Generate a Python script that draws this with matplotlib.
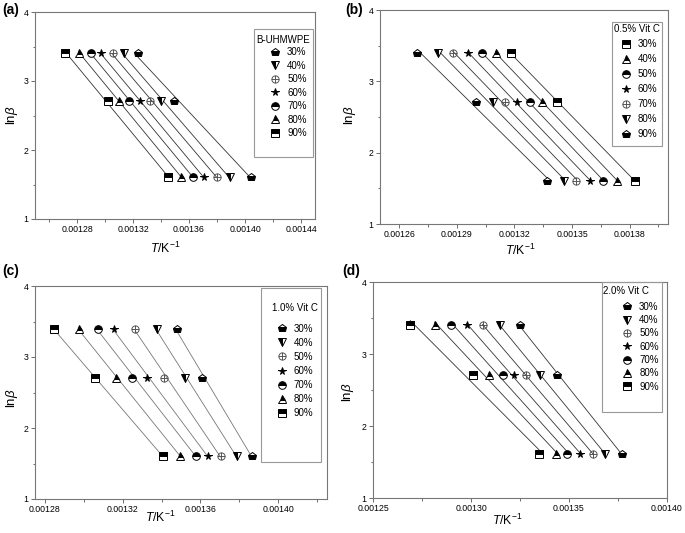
import numpy as np
import matplotlib
matplotlib.use('Agg')
import matplotlib.pyplot as plt
from matplotlib.path import Path
from matplotlib.patches import Rectangle
from matplotlib.ticker import MultipleLocator, FormatStrFormatter

plt.rcParams['font.family'] = ['Liberation Sans', 'DejaVu Sans']
plt.rcParams['mathtext.fontset'] = 'custom'
plt.rcParams['mathtext.rm'] = 'Liberation Sans'
plt.rcParams['mathtext.it'] = 'Liberation Sans:italic'

# ---------------- data ----------------
heating_rates = [5, 15, 30]          # K/min  -> ln(beta)
conversions = ['30%', '40%', '50%', '60%', '70%', '80%', '90%']

# 1/T values (K^-1) for beta = 5, 15, 30, rows = conversion 30% ... 90%
inv_T_a = [
    [0.0014045, 0.0013495, 0.0013233],
    [0.0013890, 0.0013400, 0.0013133],
    [0.0013800, 0.0013324, 0.0013055],
    [0.0013705, 0.0013248, 0.0012971],
    [0.0013629, 0.0013174, 0.0012900],
    [0.0013543, 0.0013102, 0.0012817],
    [0.0013448, 0.0013019, 0.0012717],
]
inv_T_b = [
    [0.0013827, 0.0013423, 0.0013180],
    [0.0013736, 0.0013345, 0.0013102],
    [0.0013662, 0.0013280, 0.0013029],
    [0.0013592, 0.0013214, 0.0012956],
    [0.0013523, 0.0013150, 0.0012878],
    [0.0013457, 0.0013086, 0.0012803],
    [0.0013371, 0.0012999, 0.0012694],
]
inv_T_c = [
    [0.0013865, 0.0013607, 0.0013480],
    [0.0013786, 0.0013518, 0.0013376],
    [0.0013703, 0.0013415, 0.0013265],
    [0.0013638, 0.0013326, 0.0013154],
    [0.0013578, 0.0013248, 0.0013074],
    [0.0013497, 0.0013164, 0.0012974],
    [0.0013405, 0.0013056, 0.0012846],
]
inv_T_d = [
    [0.0013771, 0.0013441, 0.0013249],
    [0.0013686, 0.0013353, 0.0013147],
    [0.0013622, 0.0013283, 0.0013059],
    [0.0013556, 0.0013220, 0.0012978],
    [0.0013492, 0.0013161, 0.0012898],
    [0.0013432, 0.0013093, 0.0012814],
    [0.0013347, 0.0013012, 0.0012690],
]
titles = ['B-UHMWPE', '0.5% Vit C', '1.0% Vit C', '2.0% Vit C']
panel_letters = ['(a)', '(b)', '(c)', '(d)']

ln_beta = np.log(heating_rates)

# ---------------- marker styles ----------------
oplus = Path.make_compound_path(
    Path.unit_circle(),
    Path([[-1, 0], [1, 0], [0, -1], [0, 1]],
         [Path.MOVETO, Path.LINETO, Path.MOVETO, Path.LINETO]))

STY = {
    'pent': dict(marker='p', fillstyle='bottom', markerfacecolor='black',
                 markerfacecoloralt='white', markeredgecolor='black', ms=6.2),
    'vtri': dict(marker='v', fillstyle='left', markerfacecolor='black',
                 markerfacecoloralt='white', markeredgecolor='black', ms=6),
    'oplus': dict(marker=oplus, markerfacecolor='none', markeredgecolor='#555555', ms=5.2),
    'star': dict(marker='*', markerfacecolor='black', markeredgecolor='black', ms=5.6),
    'circ': dict(marker='o', fillstyle='top', markerfacecolor='black',
                 markerfacecoloralt='white', markeredgecolor='black', ms=5.5),
    'tri': dict(marker='^', fillstyle='top', markerfacecolor='black',
                markerfacecoloralt='white', markeredgecolor='black', ms=6),
    'sq': dict(marker='s', fillstyle='top', markerfacecolor='black',
               markerfacecoloralt='white', markeredgecolor='black', ms=5.2),
}
markers_std = ['pent', 'vtri', 'oplus', 'star', 'circ', 'tri', 'sq']
markers_rev = ['sq', 'tri', 'circ', 'star', 'oplus', 'vtri', 'pent']

W, H = 685, 533
fig = plt.figure(figsize=(W / 100, H / 100), dpi=100)

# panel geometry in pixels: left, right, top, bottom
panels = [
    dict(box=(35, 315, 12, 219), data=inv_T_a, mk=markers_std,
         xlim=(0.00125, 0.00145), major=0.00004, minor=0.00002, xstart=0.00128,
         leg_box=(254, 313, 29, 157), title_xy=(256, 40), mx=275, y1=51.7, y7=128.3,
         line='#333333', letter_xy=(2, 10), xl=(165, 248), yl=(12, 115)),
    dict(box=(380, 668, 10, 224), data=inv_T_b, mk=markers_rev,
         xlim=(0.00125, 0.00140), major=0.00003, minor=0.000015, xstart=0.00126,
         leg_box=(612, 662, 22, 146), title_xy=(614, 29), mx=625.7, y1=44, y7=129.3,
         line='#333333', letter_xy=(345, 10), xl=(520, 250), yl=(350, 115)),
    dict(box=(35, 327, 286, 499), data=inv_T_c, mk=markers_std,
         xlim=(0.001275, 0.001425), major=0.00004, minor=0.00002, xstart=0.00128,
         leg_box=(261, 321, 288, 462), title_xy=(272, 307.7), mx=281.7, y1=328.3, y7=408.3,
         line='#777777', letter_xy=(2, 271), xl=(160, 517), yl=(12, 398)),
    dict(box=(373, 667, 282, 498), data=inv_T_d, mk=markers_std,
         xlim=(0.00125, 0.00140), major=0.00005, minor=0.000025, xstart=0.00125,
         leg_box=(602, 662, 282, 412), title_xy=(603, 290.7), mx=627, y1=306.3, y7=381.7,
         line='#333333', letter_xy=(342, 271), xl=(507, 520), yl=(348, 392)),
]

FS_LEG = 7.0
for p, title, letter in zip(panels, titles, panel_letters):
    L, R, T, B = p['box']
    ax = fig.add_axes([L / W, 1 - B / H, (R - L) / W, (B - T) / H])
    def ax_x(px):
        return (px - L) / (R - L)
    def ax_y(py):
        return (B - py) / (B - T)

    handles = []
    for conv, row, mk in zip(conversions, p['data'], p['mk']):
        x = np.array(row)
        slope, icpt = np.polyfit(x, ln_beta, 1)
        xs = np.array([x.min(), x.max()])
        ax.plot(xs, icpt + slope * xs, color=p['line'], lw=0.6, zorder=1)
        h, = ax.plot(x, ln_beta, ls='none', markeredgewidth=0.7, zorder=3,
                     label=conv, **STY[mk])
        handles.append(h)

    ax.set_xlim(*p['xlim'])
    ax.set_ylim(1, 4)
    ax.set_xticks(np.arange(p['xstart'], p['xlim'][1] + 1e-9, p['major']))
    ax.xaxis.set_minor_locator(MultipleLocator(p['minor']))
    ax.xaxis.set_major_formatter(FormatStrFormatter('%.5f'))
    ax.set_yticks([1, 2, 3, 4])
    ax.yaxis.set_minor_locator(MultipleLocator(0.5))
    ax.tick_params(which='both', direction='out', color='#555555', width=0.6,
                   labelsize=6.3, pad=1.5, top=False, right=False)
    ax.tick_params(which='major', length=3)
    ax.tick_params(which='minor', length=1.8)
    for s in ax.spines.values():
        s.set_color('#777777')
        s.set_linewidth(0.8)

    # legend box + title + entries
    bx0, bx1, by0, by1 = p['leg_box']
    ax.add_patch(Rectangle((ax_x(bx0), ax_y(by1)), ax_x(bx1) - ax_x(bx0),
                           ax_y(by0) - ax_y(by1), transform=ax.transAxes,
                           fill=False, ec='#999999', lw=0.8, clip_on=False, zorder=4))
    ax.text(ax_x(p['title_xy'][0]), ax_y(p['title_xy'][1]), title, transform=ax.transAxes,
            fontsize=FS_LEG, ha='left', va='center')
    fs_px = FS_LEG * 100 / 72
    hl = 1.0
    spacing = (p['y7'] - p['y1']) / 6
    row_h = fs_px * 0.95
    ls = (spacing - row_h) / fs_px
    leg_left = p['mx'] - hl * fs_px / 2
    ax.legend(handles=handles, loc='upper left',
              bbox_to_anchor=(ax_x(leg_left), ax_y(p['y1'] - row_h / 2)),
              frameon=False, fontsize=FS_LEG, handlelength=hl, handletextpad=0.75,
              labelspacing=ls, borderpad=0, borderaxespad=0, numpoints=1)

    fig.text(p['letter_xy'][0] / W, 1 - p['letter_xy'][1] / H, letter,
             fontsize=10, fontweight='bold', ha='left', va='center')
    fig.text(p['xl'][0] / W, 1 - p['xl'][1] / H, r'$T$/K$^{-1}$', fontsize=8.8,
             ha='center', va='center')
    fig.text(p['yl'][0] / W, 1 - p['yl'][1] / H, r'ln$\beta$', fontsize=9.5,
             ha='center', va='center', rotation=90)

fig.savefig('out.png', dpi=100)
